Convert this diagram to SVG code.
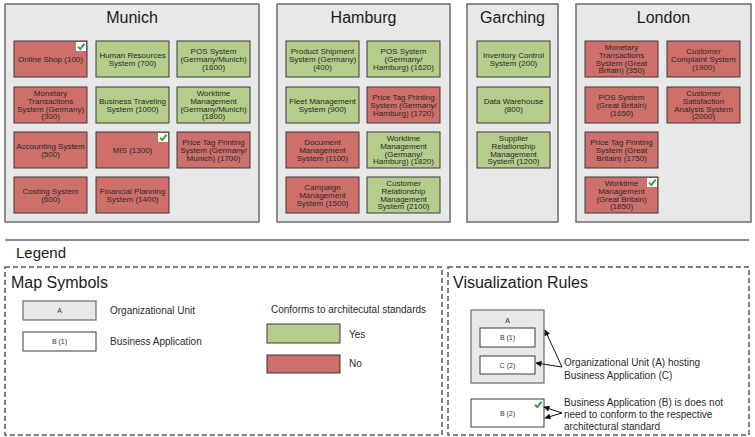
<svg xmlns="http://www.w3.org/2000/svg" width="755" height="437" viewBox="0 0 755 437">
<style>
  .bg { fill: #ffffff; }
  .unit { fill: #e8e8e8; stroke: #6b6b6b; stroke-width: 1.5; }
  .app { stroke: #3a3a3a; stroke-width: 1; }
  .g { fill: #b4cd8a; }
  .r { fill: #cf6f6a; }
  .w { fill: #ffffff; }
  .t { font-family: "Liberation Sans", Arial, sans-serif; font-size: 8px; fill: #2a2a2a; text-anchor: middle; }
  .title { font-family: "Liberation Sans", Arial, sans-serif; font-size: 16px; fill: #1a1a1a; text-anchor: middle; }
  .h { font-family: "Liberation Sans", Arial, sans-serif; fill: #1a1a1a; }
  .lbl { font-family: "Liberation Sans", Arial, sans-serif; font-size: 10px; fill: #2a2a2a; }
  .small { font-family: "Liberation Sans", Arial, sans-serif; font-size: 7px; fill: #333; text-anchor: middle; }
  .dash { fill: none; stroke: #555; stroke-width: 1.5; stroke-dasharray: 5 3; }
  .conn { stroke: #111; stroke-width: 1; fill: none; marker-end: url(#ah); }
</style>
<defs>
  <marker id="ah" viewBox="0 0 10 10" refX="9" refY="5" markerWidth="7" markerHeight="6" markerUnits="userSpaceOnUse" orient="auto">
    <path d="M0,0 L10,5 L0,10 Z" fill="#111"/>
  </marker>
  <g id="chk">
    <rect x="0" y="0" width="10" height="9" fill="#ffffff"/>
    <path d="M2,4.6 L4.2,7 L8.6,1.6" fill="none" stroke="#2e9a3c" stroke-width="1.8"/>
  </g>
</defs>
<rect class="bg" x="0" y="0" width="755" height="437"/>

<!-- Munich -->
<g id="munich">
  <rect class="unit" x="5" y="4" width="254" height="218"/>
  <text class="title" x="132" y="23">Munich</text>
</g>
<g id="app100"><rect class="app r" x="14" y="41" width="73" height="36"/><text class="t" x="50.5" y="61.8">Online Shop (100)</text><use href="#chk" x="76" y="42"/></g>
<g id="app700"><rect class="app g" x="96" y="41" width="73" height="36"/><text class="t" y="57.95"><tspan x="132.5">Human Resources</tspan><tspan x="132.5" dy="7.7">System (700)</tspan></text></g>
<g id="app1600"><rect class="app g" x="177" y="41" width="73" height="36"/><text class="t" y="54.1"><tspan x="213.5">POS System</tspan><tspan x="213.5" dy="7.7">(Germany/Munich)</tspan><tspan x="213.5" dy="7.7">(1600)</tspan></text></g>
<g id="app300"><rect class="app r" x="14" y="87" width="73" height="36"/><text class="t" y="96.25"><tspan x="50.5">Monetary</tspan><tspan x="50.5" dy="7.7">Transactions</tspan><tspan x="50.5" dy="7.7">System (Germany)</tspan><tspan x="50.5" dy="7.7">(300)</tspan></text></g>
<g id="app1000"><rect class="app g" x="96" y="87" width="73" height="36"/><text class="t" y="103.95"><tspan x="132.5">Business Traveling</tspan><tspan x="132.5" dy="7.7">System (1000)</tspan></text></g>
<g id="app1800"><rect class="app g" x="177" y="87" width="73" height="36"/><text class="t" y="96.25"><tspan x="213.5">Worktime</tspan><tspan x="213.5" dy="7.7">Management</tspan><tspan x="213.5" dy="7.7">(Germany/Munich)</tspan><tspan x="213.5" dy="7.7">(1800)</tspan></text></g>
<g id="app500"><rect class="app r" x="14" y="132" width="73" height="36"/><text class="t" y="148.95"><tspan x="50.5">Accounting System</tspan><tspan x="50.5" dy="7.7">(500)</tspan></text></g>
<g id="app1300"><rect class="app r" x="96" y="132" width="73" height="36"/><text class="t" x="132.5" y="152.8">MIS (1300)</text><use href="#chk" x="158" y="133"/></g>
<g id="app1700"><rect class="app r" x="177" y="132" width="73" height="36"/><text class="t" y="145.1"><tspan x="213.5">Price Tag Printing</tspan><tspan x="213.5" dy="7.7">System (Germany/</tspan><tspan x="213.5" dy="7.7">Munich) (1700)</tspan></text></g>
<g id="app600"><rect class="app r" x="14" y="177" width="73" height="36"/><text class="t" y="193.95"><tspan x="50.5">Costing System</tspan><tspan x="50.5" dy="7.7">(600)</tspan></text></g>
<g id="app1400"><rect class="app r" x="96" y="177" width="73" height="36"/><text class="t" y="193.95"><tspan x="132.5">Financial Planning</tspan><tspan x="132.5" dy="7.7">System (1400)</tspan></text></g>

<!-- Hamburg -->
<g id="hamburg">
  <rect class="unit" x="277" y="4" width="173" height="218"/>
  <text class="title" x="363.5" y="23">Hamburg</text>
</g>
<g id="app400"><rect class="app g" x="286" y="41" width="73" height="36"/><text class="t" y="54.1"><tspan x="322.5">Product Shipment</tspan><tspan x="322.5" dy="7.7">System (Germany)</tspan><tspan x="322.5" dy="7.7">(400)</tspan></text></g>
<g id="app1620"><rect class="app g" x="367" y="41" width="73" height="36"/><text class="t" y="54.1"><tspan x="403.5">POS System</tspan><tspan x="403.5" dy="7.7">(Germany/</tspan><tspan x="403.5" dy="7.7">Hamburg) (1620)</tspan></text></g>
<g id="app900"><rect class="app g" x="286" y="87" width="73" height="36"/><text class="t" y="103.95"><tspan x="322.5">Fleet Management</tspan><tspan x="322.5" dy="7.7">System (900)</tspan></text></g>
<g id="app1720"><rect class="app r" x="367" y="87" width="73" height="36"/><text class="t" y="100.1"><tspan x="403.5">Price Tag Printing</tspan><tspan x="403.5" dy="7.7">System (Germany/</tspan><tspan x="403.5" dy="7.7">Hamburg) (1720)</tspan></text></g>
<g id="app1100"><rect class="app r" x="286" y="132" width="73" height="36"/><text class="t" y="145.1"><tspan x="322.5">Document</tspan><tspan x="322.5" dy="7.7">Management</tspan><tspan x="322.5" dy="7.7">System (1100)</tspan></text></g>
<g id="app1820"><rect class="app g" x="367" y="132" width="73" height="36"/><text class="t" y="141.25"><tspan x="403.5">Worktime</tspan><tspan x="403.5" dy="7.7">Management</tspan><tspan x="403.5" dy="7.7">(Germany/</tspan><tspan x="403.5" dy="7.7">Hamburg) (1820)</tspan></text></g>
<g id="app1500"><rect class="app r" x="286" y="177" width="73" height="36"/><text class="t" y="190.1"><tspan x="322.5">Campaign</tspan><tspan x="322.5" dy="7.7">Management</tspan><tspan x="322.5" dy="7.7">System (1500)</tspan></text></g>
<g id="app2100"><rect class="app g" x="367" y="177" width="73" height="36"/><text class="t" y="186.25"><tspan x="403.5">Customer</tspan><tspan x="403.5" dy="7.7">Relationship</tspan><tspan x="403.5" dy="7.7">Management</tspan><tspan x="403.5" dy="7.7">System (2100)</tspan></text></g>

<!-- Garching -->
<g id="garching">
  <rect class="unit" x="467" y="4" width="91" height="218"/>
  <text class="title" x="512.5" y="23">Garching</text>
</g>
<g id="app200"><rect class="app g" x="477" y="41" width="73" height="36"/><text class="t" y="57.95"><tspan x="513.5">Inventory Control</tspan><tspan x="513.5" dy="7.7">System (200)</tspan></text></g>
<g id="app800"><rect class="app g" x="477" y="87" width="73" height="36"/><text class="t" y="103.95"><tspan x="513.5">Data Warehouse</tspan><tspan x="513.5" dy="7.7">(800)</tspan></text></g>
<g id="app1200"><rect class="app g" x="477" y="132" width="73" height="36"/><text class="t" y="141.25"><tspan x="513.5">Supplier</tspan><tspan x="513.5" dy="7.7">Relationship</tspan><tspan x="513.5" dy="7.7">Management</tspan><tspan x="513.5" dy="7.7">System (1200)</tspan></text></g>

<!-- London -->
<g id="london">
  <rect class="unit" x="576" y="4" width="175" height="218"/>
  <text class="title" x="663.5" y="23">London</text>
</g>
<g id="app350"><rect class="app r" x="585" y="41" width="73" height="36"/><text class="t" y="50.25"><tspan x="621.5">Monetary</tspan><tspan x="621.5" dy="7.7">Transactions</tspan><tspan x="621.5" dy="7.7">System (Great</tspan><tspan x="621.5" dy="7.7">Britain) (350)</tspan></text></g>
<g id="app1900"><rect class="app r" x="667" y="41" width="73" height="36"/><text class="t" y="54.1"><tspan x="703.5">Customer</tspan><tspan x="703.5" dy="7.7">Complaint System</tspan><tspan x="703.5" dy="7.7">(1900)</tspan></text></g>
<g id="app1650"><rect class="app r" x="585" y="87" width="73" height="36"/><text class="t" y="100.1"><tspan x="621.5">POS System</tspan><tspan x="621.5" dy="7.7">(Great Britain)</tspan><tspan x="621.5" dy="7.7">(1650)</tspan></text></g>
<g id="app2000"><rect class="app r" x="667" y="87" width="73" height="36"/><text class="t" y="96.25"><tspan x="703.5">Customer</tspan><tspan x="703.5" dy="7.7">Satisfaction</tspan><tspan x="703.5" dy="7.7">Analysis System</tspan><tspan x="703.5" dy="7.7">(2000)</tspan></text></g>
<g id="app1750"><rect class="app r" x="585" y="132" width="73" height="36"/><text class="t" y="145.1"><tspan x="621.5">Price Tag Printing</tspan><tspan x="621.5" dy="7.7">System (Great</tspan><tspan x="621.5" dy="7.7">Britain) (1750)</tspan></text></g>
<g id="app1850"><rect class="app r" x="585" y="177" width="73" height="36"/><text class="t" y="186.25"><tspan x="621.5">Worktime</tspan><tspan x="621.5" dy="7.7">Management</tspan><tspan x="621.5" dy="7.7">(Great Britain)</tspan><tspan x="621.5" dy="7.7">(1850)</tspan></text><use href="#chk" x="647" y="178"/></g>

<!-- Legend -->
<g id="legend">
  <line x1="5" y1="240" x2="749" y2="240" stroke="#8a8a8a" stroke-width="2"/>
  <text class="h" x="16" y="257.5" font-size="15">Legend</text>
</g>

<g id="map-symbols">
  <rect class="dash" x="5" y="267" width="437" height="168"/>
  <text class="h" x="11" y="288" font-size="16">Map Symbols</text>
  <rect class="unit" x="23" y="301" width="73" height="19" style="stroke-width:1.2"/>
  <text class="small" x="59.5" y="313">A</text>
  <rect class="app w" x="23" y="332" width="73" height="19"/>
  <text class="small" x="59.5" y="344">B (1)</text>
  <text class="lbl" x="110" y="313.5">Organizational Unit</text>
  <text class="lbl" x="110" y="344.5">Business Application</text>
  <text class="lbl" x="271" y="312.5">Conforms to architecutal standards</text>
  <rect class="app g" x="267" y="324" width="73" height="19"/>
  <text class="lbl" x="349" y="337.5">Yes</text>
  <rect class="app r" x="267" y="355" width="73" height="18"/>
  <text class="lbl" x="349" y="366.5">No</text>
</g>

<g id="visualization-rules">
  <rect class="dash" x="448" y="267" width="301" height="168"/>
  <text class="h" x="453" y="288" font-size="16">Visualization Rules</text>
  <rect class="unit" x="471" y="310" width="73" height="73" style="stroke-width:1.2"/>
  <text class="small" x="507.5" y="322.5">A</text>
  <rect class="app w" x="480" y="328" width="55" height="19"/>
  <text class="small" x="507.5" y="340">B (1)</text>
  <rect class="app w" x="480" y="356" width="55" height="18"/>
  <text class="small" x="507.5" y="367.5">C (2)</text>
  <rect class="app w" x="471" y="399" width="73" height="28"/>
  <text class="small" x="507.5" y="415.5">B (2)</text>
  <use href="#chk" x="533" y="400"/>
  <text class="lbl" x="564" y="365.5">Organizational Unit (A) hosting</text>
  <text class="lbl" x="564" y="378.5">Business Application (C)</text>
  <text class="lbl" x="564" y="405.5">Business Application (B) is does not</text>
  <text class="lbl" x="564" y="417.5">need to conform to the respective</text>
  <text class="lbl" x="564" y="429.5">architectural standard</text>
</g>

<g id="connectors">
  <line class="conn" x1="562" y1="367" x2="545" y2="330"/>
  <line class="conn" x1="562" y1="367" x2="536" y2="363"/>
  <line class="conn" x1="562" y1="413" x2="544" y2="407"/>
  <line class="conn" x1="562" y1="413" x2="545" y2="418"/>
</g>
</svg>
